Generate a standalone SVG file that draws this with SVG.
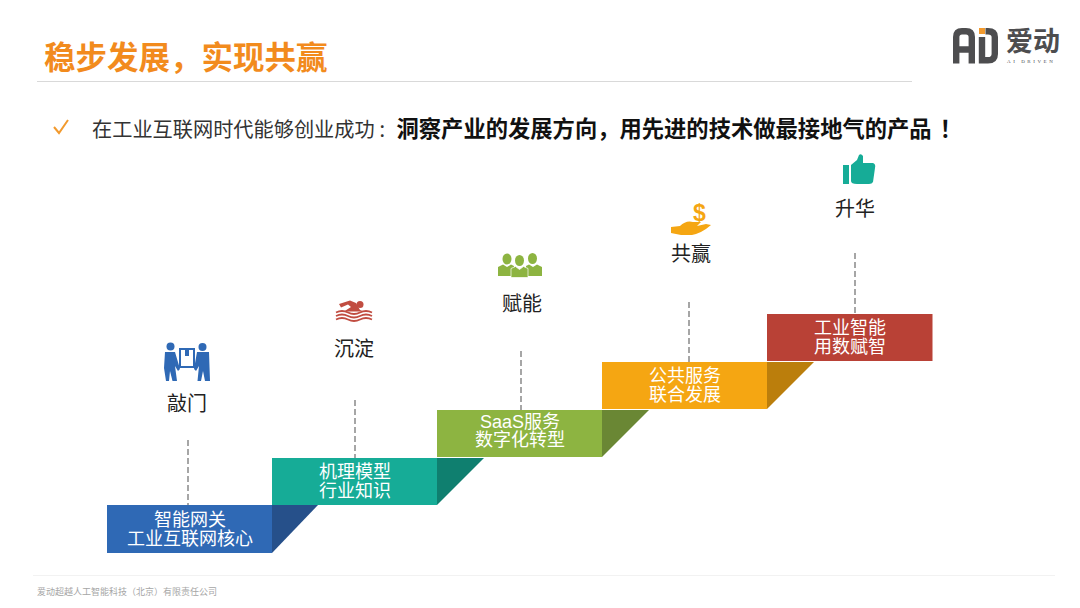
<svg xmlns="http://www.w3.org/2000/svg" width="1080" height="608" viewBox="0 0 1080 608">
<style>
text{font-family:"Liberation Sans","Noto Sans CJK SC",sans-serif}
.lab{font-size:20px;fill:#222;text-anchor:middle}
.st{font-size:18px;fill:#fff;text-anchor:middle}
.tiny{font-family:"Liberation Serif",serif;font-size:5px;letter-spacing:2.55px;fill:#4d4d4f}
.dollar{font-family:"Liberation Sans",sans-serif;font-size:23px;font-weight:700;fill:#F5A612;text-anchor:middle}
.dash{stroke:#a6a6a6;stroke-width:2;stroke-dasharray:6 3;fill:none}
</style>
<rect width="1080" height="608" fill="#fff"/>
<g id="title">
<text x="44" y="69" font-size="31.5" font-weight="700" fill="#F28B1D">稳步发展，实现共赢</text>
<line x1="37" y1="81.5" x2="912" y2="81.5" stroke="#d9d9d9"/>
</g>
<g id="logo">
<path d="M956.200 63.500V37Q956.200 31.200 962 31.200H966Q971.800 31.200 971.800 37V63.500M956.200 49.500H971.800" fill="none" stroke="#4d4d4f" stroke-width="6.400"/>
<rect x="979" y="28" width="6" height="6" fill="#F29A2E"/>
<path d="M982 37V60.300H988Q994.800 60.300 994.800 54V37Q994.800 31.200 988 31.200H985.500" fill="none" stroke="#4d4d4f" stroke-width="6.400"/>
<text x="1006" y="51" font-size="27" font-weight="700" fill="#4d4d4f">爱动</text>
<text class="tiny" x="1007" y="63">AI DRIVEN</text>
</g>
<g id="headline">
<path d="M54 127L59 133L68 120" fill="none" stroke="#F29A2E" stroke-width="2"/>
<text x="92" y="137" font-size="20.2" fill="#333">在工业互联网时代能够创业成功<tspan dx="3" font-size="18">：</tspan></text>
<text x="396.500" y="137" font-size="22.3" font-weight="700" fill="#111">洞察产业的发展方向，用先进的技术做最接地气的产品<tspan dx="8">！</tspan></text>
</g>
<g id="connectors">
<line class="dash" x1="188" y1="440" x2="188" y2="505"/>
<line class="dash" x1="355" y1="400" x2="355" y2="458"/>
<line class="dash" x1="521" y1="351" x2="521" y2="410"/>
<line class="dash" x1="689" y1="302" x2="689" y2="362"/>
<line class="dash" x1="855" y1="253" x2="855" y2="314"/>
</g>
<g id="step1">
<rect x="107" y="505" width="165" height="48" fill="#2F69B5"/>
<polygon points="272,505 318,505 272,553" fill="#26508A"/>
<text class="st" x="190" y="526">智能网关</text>
<text class="st" x="190" y="545">工业互联网核心</text>
</g>
<g id="step2">
<rect x="272" y="458" width="165" height="47" fill="#16AC97"/>
<polygon points="437,458 484,458 437,505" fill="#0F7F6F"/>
<text class="st" x="355" y="478">机理模型</text>
<text class="st" x="355" y="497">行业知识</text>
</g>
<g id="step3">
<rect x="437" y="410" width="165" height="47" fill="#8DB441"/>
<polygon points="602,410 649,410 602,457" fill="#6A8734"/>
<text class="st" x="520" y="428">SaaS服务</text>
<text class="st" x="520" y="446">数字化转型</text>
</g>
<g id="step4">
<rect x="602" y="362" width="165" height="47" fill="#F5A612"/>
<polygon points="767,362 814,362 767,409" fill="#BB7E0C"/>
<text class="st" x="685" y="382">公共服务</text>
<text class="st" x="685" y="401">联合发展</text>
</g>
<g id="step5">
<rect x="767" y="314" width="165.500" height="47" fill="#B94136"/>
<text class="st" x="850" y="334">工业智能</text>
<text class="st" x="850" y="353">用数赋智</text>
</g>
<g id="node-qiaomen">
<g fill="#2F69B5">
<circle cx="170.500" cy="346.500" r="4"/><circle cx="202.500" cy="347" r="4"/>
<path d="M165 352H175L180 369L178 371L175 366L177 381H172.500L170 371L169 381H166L164 368Z"/>
<path d="M197 352H209L210 381H205L203 371L201 381H197.500L199 366L196 371L194 369Z"/>
<path d="M179 348H195V368H179ZM181 350V366H193V350H189V356H185V350Z" fill-rule="evenodd"/>
</g>
<text class="lab" x="187" y="411">敲门</text>
</g>
<g id="node-chendian">
<g fill="#C14D41">
<circle cx="360" cy="304.500" r="3.500"/>
<path d="M339 304L350 300.500L356 303L360 310L364 311.500H344L351 307L348 304.500L341 307.500Z"/>
</g>
<path d="M336 312.500Q342 309.500 348 312.500T360 312.500T372 312.500M336 316Q342 313 348 316T360 316T372 316M336 319.500Q342 316.500 348 319.500T360 319.500T372 319.500" fill="none" stroke="#C14D41" stroke-width="1.800"/>
<text class="lab" x="354" y="356">沉淀</text>
</g>
<g id="node-funeng">
<g fill="#8DB441">
<ellipse cx="507" cy="259" rx="4.500" ry="5.500"/><ellipse cx="532.500" cy="258.500" rx="4.500" ry="5.500"/><ellipse cx="519.500" cy="260.500" rx="4.500" ry="5.500"/>
<path d="M498 267L503 264.500L507 267L511 264.500L514 266V276H498Z"/>
<path d="M526 266L529 264.500L533 267L537 264.500L542 267V276H526Z"/>
<path d="M511 268.500L515.500 266.500L519.500 269.500L523.500 266.500L528 268.500V277.500H511Z" stroke="#fff" stroke-width=".7"/>
</g>
<text class="lab" x="522" y="311">赋能</text>
</g>
<g id="node-gongying">
<path d="M671 227L680 226Q686 220 693 222H701L697 226L706 224L711 225Q702 233 692 235H681L671 233Z" fill="#F5A612"/>
<text class="dollar" x="699.500" y="221">$</text>
<text class="lab" x="691" y="261">共赢</text>
</g>
<g id="node-shenghua">
<g fill="#16AC97">
<rect x="843" y="165" width="6" height="19"/>
<path d="M851 165L857 160L859 155Q861 153 863 156L863 163H873Q876 164 875 168L873 182Q872 184 869 184H857Q851 184 851 181Z"/>
</g>
<text class="lab" x="855" y="216">升华</text>
</g>
<g id="footer">
<line x1="33" y1="575.500" x2="1055" y2="575.500" stroke="#f2f2f2"/>
<text x="37" y="595" font-size="9" fill="#a6a6a6">爱动超越人工智能科技（北京）有限责任公司</text>
</g>
</svg>
